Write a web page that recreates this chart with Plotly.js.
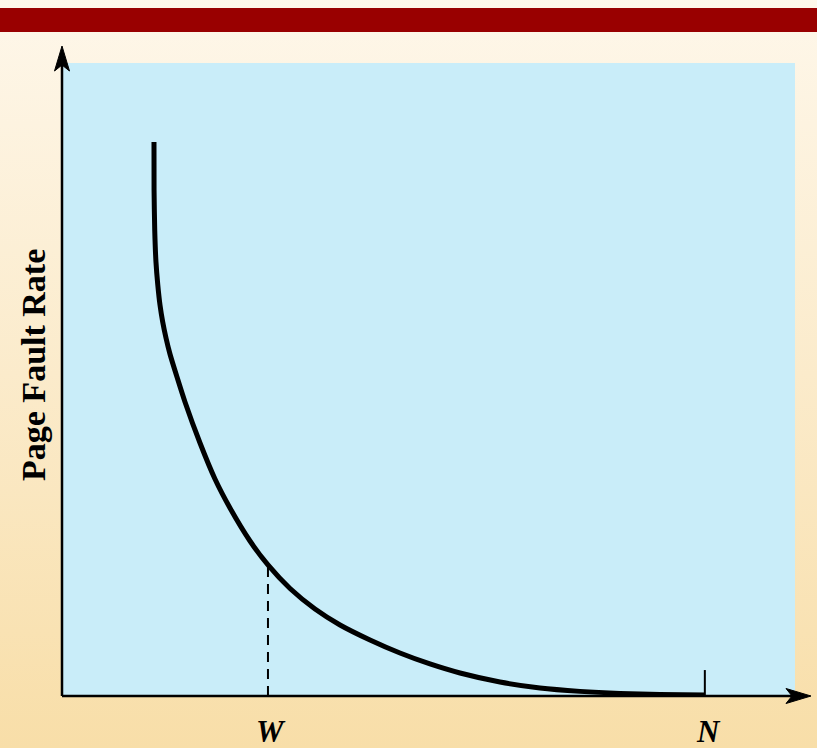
<!DOCTYPE html>
<html>
<head>
<meta charset="utf-8">
<script src="https://cdn.plot.ly/plotly-3.0.1.min.js"></script>
<style>
  html, body { margin: 0; padding: 0; }
  body { width: 817px; height: 748px; overflow: hidden;
         background: linear-gradient(to bottom, #FEF7EA 0%, #FBEBCB 50%, #F8DEA8 100%); }
  #chart { width: 817px; height: 748px; }
</style>
</head>
<body>
<div id="chart"></div>
<script>
// Curve (x: window size, y: page fault rate, arbitrary units 0-100)
const curveX = [12.55, 12.56, 12.65, 12.82, 13.07, 13.37, 13.74, 14.19, 14.73, 15.69, 16.78, 18.83, 20.87, 22.92,
                25.65, 28.10, 31.11, 34.52, 37.93, 42.02, 46.11, 50.20, 54.30, 59.75, 65.21, 70.67, 76.13, 81.58, 87.72];
const curveY = [87.52, 79.94, 73.62, 68.56, 64.93, 61.77, 59.08, 56.56, 54.03, 50.39, 46.45, 39.97, 34.28, 29.70,
                24.49, 20.70, 16.98, 13.74, 11.22, 8.85, 6.79, 5.06, 3.63, 2.21, 1.26, 0.73, 0.41, 0.25, 0.16];
// Marked points on the x axis
const markLabels = ['W', 'N'];
const markX = [28.1, 87.7];
const markTop = [20.4, 4.1];
const yTitle = 'Page Fault Rate';

const traces = [
  { x: curveX, y: curveY, mode: 'lines', line: { color: '#000', width: 5, shape: 'spline', smoothing: 0.6 },
    hoverinfo: 'skip', cliponaxis: false },
  { x: [markX[0], markX[0]], y: [0, markTop[0]], mode: 'lines',
    line: { color: '#000', width: 2, dash: '10px,7px' }, hoverinfo: 'skip' },
  { x: [markX[1], markX[1]], y: [0, markTop[1]], mode: 'lines',
    line: { color: '#000', width: 2 }, hoverinfo: 'skip' }
];

const W = 817, H = 748, mL = 62, mR = 22, mT = 63, mB = 52;
const pw = W - mL - mR, ph = H - mT - mB;
const px = v => (v - mL) / pw;          // page pixel x -> paper
const py = v => (H - mB - v) / ph;      // page pixel y -> paper
const serif = 'Liberation Serif, Times New Roman, serif';

const layout = {
  width: W, height: H,
  margin: { l: mL, r: mR, t: mT, b: mB, pad: 0 },
  paper_bgcolor: 'rgba(0,0,0,0)',
  plot_bgcolor: '#C9EDF9',
  showlegend: false,
  xaxis: { range: [0, 100], showgrid: false, zeroline: false, showticklabels: false, ticks: '', showline: false, fixedrange: true },
  yaxis: { range: [0, 100], showgrid: false, zeroline: false, showticklabels: false, ticks: '', showline: false, fixedrange: true },
  shapes: [
    { type: 'rect', xref: 'paper', yref: 'paper', x0: px(0), x1: px(W), y0: py(32), y1: py(8),
      fillcolor: '#990000', line: { width: 0 }, layer: 'above' },
    { type: 'line', xref: 'paper', yref: 'paper', x0: 0, x1: px(800), y0: 0, y1: 0,
      line: { color: '#000', width: 2.5 }, layer: 'above' },
    { type: 'line', xref: 'paper', yref: 'paper', x0: 0, x1: 0, y0: 0, y1: py(60),
      line: { color: '#000', width: 2.5 }, layer: 'above' },
    { type: 'path', xref: 'paper', yref: 'paper', xsizemode: 'pixel', ysizemode: 'pixel',
      xanchor: 0, yanchor: py(46), path: 'M0,0 L-7.5,-25 L0,-19 L7.5,-25 Z',
      fillcolor: '#000', line: { color: '#000', width: 1 }, layer: 'above' },
    { type: 'path', xref: 'paper', yref: 'paper', xsizemode: 'pixel', ysizemode: 'pixel',
      xanchor: px(811), yanchor: 0, path: 'M0,0 L-25,7.5 L-19,0 L-25,-7.5 Z',
      fillcolor: '#000', line: { color: '#000', width: 1 }, layer: 'above' }
  ],
  annotations: [
    { x: markX[0], xref: 'x', y: py(731), yref: 'paper', text: markLabels[0], showarrow: false,
      xanchor: 'center', yanchor: 'middle', xshift: 3,
      font: { family: serif, size: 31, color: '#000', weight: 'bold', style: 'italic' } },
    { x: markX[1], xref: 'x', y: py(731), yref: 'paper', text: markLabels[1], showarrow: false,
      xanchor: 'center', yanchor: 'middle', xshift: 4,
      font: { family: serif, size: 31, color: '#000', weight: 'bold', style: 'italic' } },
    { x: px(33), xref: 'paper', y: py(365), yref: 'paper', text: yTitle, showarrow: false, textangle: -90,
      xanchor: 'center', yanchor: 'middle',
      font: { family: serif, size: 34, color: '#000', weight: 'bold' } }
  ]
};

Plotly.newPlot('chart', traces, layout, { displayModeBar: false, staticPlot: true });
</script>
</body>
</html>
